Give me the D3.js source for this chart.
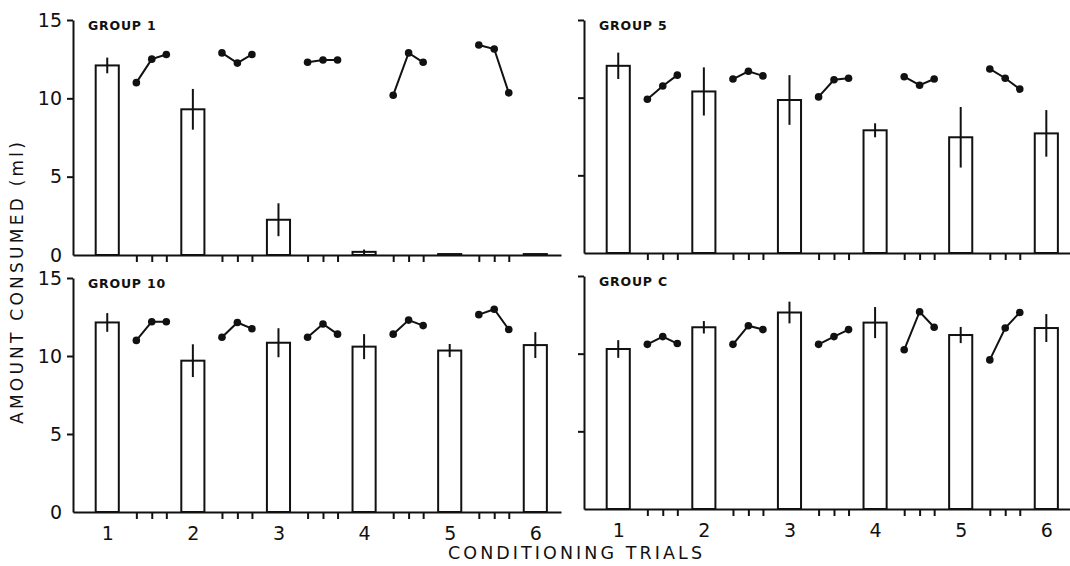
<!DOCTYPE html>
<html>
<head>
<meta charset="utf-8">
<script src="https://cdn.jsdelivr.net/npm/d3@7"></script>
<style>
  html, body { margin: 0; padding: 0; background: #fff; }
  svg { display: block; }
  text { font-family: "DejaVu Sans", "Liberation Sans", sans-serif; fill: #111; }
</style>
</head>
<body>
<svg id="chart" width="1070" height="566"></svg>
<script>
// ---------------- data ----------------
const trials = [1, 2, 3, 4, 5, 6];
const yTicks = [0, 5, 10, 15];
const sessionOffsets = [0.34, 0.52, 0.69]; // three within-session points between trials
const groupNames = ["GROUP 1", "GROUP 5", "GROUP 10", "GROUP C"];

const g1Means = [12.1, 9.3, 2.25, 0.2, 0.06, 0.06];
const g1Errors = [0.5, 1.3, 1.05, 0.15, 0, 0];
const g1Session = [[11.0, 12.5, 12.8], [12.9, 12.25, 12.8], [12.3, 12.45, 12.45], [10.2, 12.9, 12.3], [13.4, 13.15, 10.35]];

const g5Means = [12.05, 10.4, 9.85, 7.9, 7.45, 7.7];
const g5Errors = [0.85, 1.55, 1.6, 0.45, 1.95, 1.5];
const g5Session = [[9.9, 10.75, 11.45], [11.2, 11.7, 11.4], [10.05, 11.15, 11.25], [11.35, 10.8, 11.2], [11.85, 11.25, 10.55]];

const g10Means = [12.15, 9.7, 10.85, 10.6, 10.35, 10.7];
const g10Errors = [0.6, 1.05, 0.93, 0.8, 0.42, 0.83];
const g10Session = [[11.0, 12.2, 12.2], [11.2, 12.15, 11.75], [11.2, 12.05, 11.4], [11.4, 12.3, 11.95], [12.65, 13.0, 11.7]];

const gCMeans = [10.3, 11.7, 12.65, 12.0, 11.2, 11.65];
const gCErrors = [0.57, 0.4, 0.7, 1.0, 0.52, 0.9];
const gCSession = [[10.6, 11.1, 10.65], [10.6, 11.8, 11.55], [10.6, 11.1, 11.55], [10.25, 12.7, 11.7], [9.6, 11.65, 12.65]];

// ---------------- layout ----------------
const panels = [
  { name: groupNames[0], means: g1Means, errors: g1Errors, session: g1Session, x0: 73,  yTop: 20,  yBottom: 255, left: true,  bottom: false },
  { name: groupNames[1], means: g5Means, errors: g5Errors, session: g5Session, x0: 584, yTop: 20,  yBottom: 253, left: false, bottom: false },
  { name: groupNames[2], means: g10Means, errors: g10Errors, session: g10Session, x0: 73,  yTop: 278, yBottom: 512, left: true,  bottom: true },
  { name: groupNames[3], means: gCMeans, errors: gCErrors, session: gCSession, x0: 584, yTop: 276, yBottom: 509, left: false, bottom: true }
];
const panelWidth = 488;
const barHalf = 0.135;
const ink = "#111";
const sw = 2;

const svg = d3.select("#chart");

panels.forEach(p => {
  const x = d3.scaleLinear().domain([0.6, 6.3]).range([p.x0, p.x0 + panelWidth]);
  const y = d3.scaleLinear().domain([0, 15]).range([p.yBottom, p.yTop]);
  const g = svg.append("g");

  // bars
  g.selectAll("rect.bar").data(p.means).join("rect")
    .attr("class", "bar")
    .attr("x", (d, i) => x(trials[i] - barHalf))
    .attr("width", (d, i) => x(trials[i] + barHalf) - x(trials[i] - barHalf))
    .attr("y", d => y(d))
    .attr("height", d => y(0) - y(d))
    .attr("fill", "#fff").attr("stroke", ink).attr("stroke-width", sw);

  // error bars
  g.selectAll("line.err").data(p.means.map((m, i) => ({ m, e: p.errors[i], t: trials[i] })).filter(d => d.e > 0)).join("line")
    .attr("class", "err")
    .attr("x1", d => x(d.t)).attr("x2", d => x(d.t))
    .attr("y1", d => y(d.m + d.e)).attr("y2", d => y(d.m - d.e))
    .attr("stroke", ink).attr("stroke-width", sw);

  // within-session lines
  const line = d3.line().x(d => x(d.t)).y(d => y(d.v));
  p.session.forEach((vals, k) => {
    const pts = vals.map((v, j) => ({ t: trials[k] + sessionOffsets[j], v }));
    g.append("path").datum(pts)
      .attr("d", line).attr("fill", "none")
      .attr("stroke", ink).attr("stroke-width", sw);
    g.selectAll(null).data(pts).join("circle")
      .attr("cx", d => x(d.t)).attr("cy", d => y(d.v)).attr("r", 3.8)
      .attr("fill", ink);
  });

  // x axis with minor ticks
  const minor = [];
  trials.slice(0, 5).forEach(t => sessionOffsets.forEach(o => minor.push(t + o)));
  const xa = g.append("g").attr("transform", `translate(0,${p.yBottom})`)
    .call(d3.axisBottom(x).tickValues(minor).tickSize(7).tickSizeOuter(0).tickFormat(""));
  xa.select(".domain").attr("stroke", ink).attr("stroke-width", sw);
  xa.selectAll(".tick line").attr("stroke", ink).attr("stroke-width", sw);

  if (p.bottom) {
    const xl = g.append("g").attr("transform", `translate(0,${p.yBottom})`)
      .call(d3.axisBottom(x).tickValues(trials).tickSize(0).tickPadding(15).tickFormat(d3.format("d")));
    xl.select(".domain").remove();
    xl.selectAll("text").attr("font-size", 19).attr("fill", ink)
      .style("font-family", '"DejaVu Sans", sans-serif');
  }

  // y axis
  const ya = g.append("g").attr("transform", `translate(${p.x0},0)`)
    .call(d3.axisLeft(y).tickValues(yTicks).tickSize(6).tickSizeOuter(0).tickPadding(5)
      .tickFormat(p.left ? d3.format("d") : ""));
  ya.select(".domain").attr("stroke", ink).attr("stroke-width", sw);
  ya.selectAll(".tick line").attr("stroke", ink).attr("stroke-width", sw)
    .filter(d => d === 0).remove();
  ya.selectAll("text").attr("font-size", 19).attr("fill", ink)
    .style("font-family", '"DejaVu Sans", sans-serif');

  // panel title
  g.append("text")
    .attr("x", p.x0 + 15).attr("y", p.yTop + 10)
    .attr("font-size", 12.5).attr("font-weight", "bold")
    .attr("letter-spacing", 0.8)
    .text(p.name);
});

// axis titles
svg.append("text")
  .attr("transform", "translate(23,283) rotate(-90)")
  .attr("text-anchor", "middle")
  .attr("font-size", 17)
  .attr("textLength", 282).attr("lengthAdjust", "spacing")
  .text("AMOUNT CONSUMED (ml)");

svg.append("text")
  .attr("x", 575).attr("y", 559)
  .attr("text-anchor", "middle")
  .attr("font-size", 17.5)
  .attr("textLength", 254).attr("lengthAdjust", "spacing")
  .text("CONDITIONING TRIALS");
</script>
</body>
</html>
